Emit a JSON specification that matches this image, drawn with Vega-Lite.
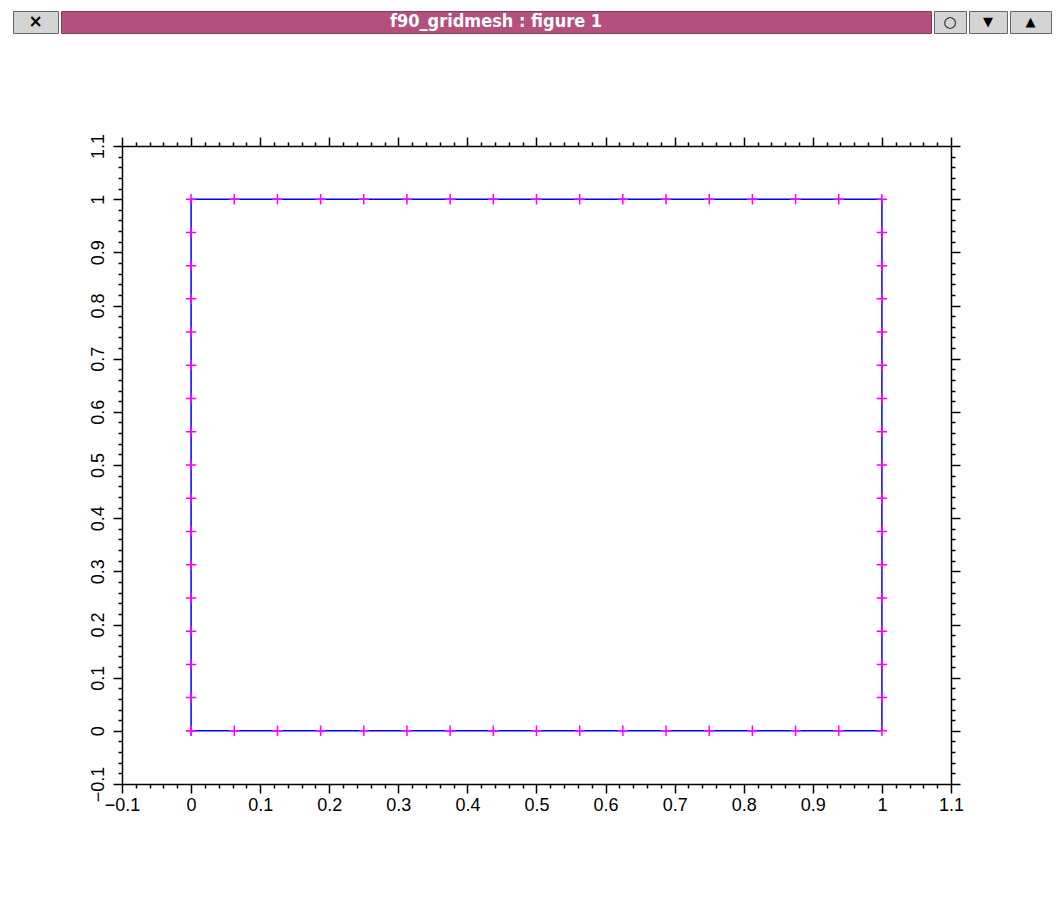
{
  "$schema": "https://vega.github.io/schema/vega-lite/v6.json",
  "background": "white",
  "padding": {"left": 12, "top": 10, "right": 9, "bottom": 10},
  "bounds": "flush",
  "spacing": 135,
  "config": {"view": {"stroke": null}},
  "vconcat": [
    {
      "bounds": "flush",
      "spacing": 3,
      "hconcat": [
        {"width": 45, "height": 22, "view": {"fill": "#d4d4d4", "stroke": "#666666"},
         "data": {"values": [{"t": "×"}]},
         "mark": {"type": "text", "font": "DejaVu Sans", "fontSize": 17, "fontWeight": "bold", "color": "black"},
         "encoding": {"text": {"field": "t"}}},
        {"width": 870, "height": 22, "view": {"fill": "#b4507c", "stroke": "#8a3a5e"},
         "data": {"values": [{"t": "f90_gridmesh : figure 1"}]},
         "mark": {"type": "text", "font": "DejaVu Sans Condensed, Liberation Sans", "fontSize": 18, "fontWeight": "bold", "color": "white"},
         "encoding": {"text": {"field": "t"}}},
        {"width": 32, "height": 22, "view": {"fill": "#d4d4d4", "stroke": "#666666"},
         "data": {"values": [{"t": "○"}]},
         "mark": {"type": "text", "font": "DejaVu Sans", "fontSize": 15, "color": "black"},
         "encoding": {"text": {"field": "t"}}},
        {"width": 38, "height": 22, "view": {"fill": "#d4d4d4", "stroke": "#666666"},
         "data": {"values": [{"t": "▼"}]},
         "mark": {"type": "text", "font": "DejaVu Sans", "fontSize": 13, "color": "black"},
         "encoding": {"text": {"field": "t"}}},
        {"width": 41, "height": 22, "view": {"fill": "#d4d4d4", "stroke": "#666666"},
         "data": {"values": [{"t": "▲"}]},
         "mark": {"type": "text", "font": "DejaVu Sans", "fontSize": 13, "color": "black"},
         "encoding": {"text": {"field": "t"}}}
      ]
    },
    {
      "bounds": "flush",
      "spacing": 0,
      "hconcat": [
        {"width": 109, "height": 638,
         "data": {"values": [{"t": ""}]},
         "mark": {"type": "text"},
         "encoding": {"text": {"field": "t"}}},
        {
          "width": 829,
          "height": 638,
          "data": {"values": [
            {"i": 0, "x": 0, "y": 0},
            {"i": 1, "x": 0.0625, "y": 0},
            {"i": 2, "x": 0.125, "y": 0},
            {"i": 3, "x": 0.1875, "y": 0},
            {"i": 4, "x": 0.25, "y": 0},
            {"i": 5, "x": 0.3125, "y": 0},
            {"i": 6, "x": 0.375, "y": 0},
            {"i": 7, "x": 0.4375, "y": 0},
            {"i": 8, "x": 0.5, "y": 0},
            {"i": 9, "x": 0.5625, "y": 0},
            {"i": 10, "x": 0.625, "y": 0},
            {"i": 11, "x": 0.6875, "y": 0},
            {"i": 12, "x": 0.75, "y": 0},
            {"i": 13, "x": 0.8125, "y": 0},
            {"i": 14, "x": 0.875, "y": 0},
            {"i": 15, "x": 0.9375, "y": 0},
            {"i": 16, "x": 1, "y": 0},
            {"i": 17, "x": 1, "y": 0.0625},
            {"i": 18, "x": 1, "y": 0.125},
            {"i": 19, "x": 1, "y": 0.1875},
            {"i": 20, "x": 1, "y": 0.25},
            {"i": 21, "x": 1, "y": 0.3125},
            {"i": 22, "x": 1, "y": 0.375},
            {"i": 23, "x": 1, "y": 0.4375},
            {"i": 24, "x": 1, "y": 0.5},
            {"i": 25, "x": 1, "y": 0.5625},
            {"i": 26, "x": 1, "y": 0.625},
            {"i": 27, "x": 1, "y": 0.6875},
            {"i": 28, "x": 1, "y": 0.75},
            {"i": 29, "x": 1, "y": 0.8125},
            {"i": 30, "x": 1, "y": 0.875},
            {"i": 31, "x": 1, "y": 0.9375},
            {"i": 32, "x": 1, "y": 1},
            {"i": 33, "x": 0.9375, "y": 1},
            {"i": 34, "x": 0.875, "y": 1},
            {"i": 35, "x": 0.8125, "y": 1},
            {"i": 36, "x": 0.75, "y": 1},
            {"i": 37, "x": 0.6875, "y": 1},
            {"i": 38, "x": 0.625, "y": 1},
            {"i": 39, "x": 0.5625, "y": 1},
            {"i": 40, "x": 0.5, "y": 1},
            {"i": 41, "x": 0.4375, "y": 1},
            {"i": 42, "x": 0.375, "y": 1},
            {"i": 43, "x": 0.3125, "y": 1},
            {"i": 44, "x": 0.25, "y": 1},
            {"i": 45, "x": 0.1875, "y": 1},
            {"i": 46, "x": 0.125, "y": 1},
            {"i": 47, "x": 0.0625, "y": 1},
            {"i": 48, "x": 0, "y": 1},
            {"i": 49, "x": 0, "y": 0.9375},
            {"i": 50, "x": 0, "y": 0.875},
            {"i": 51, "x": 0, "y": 0.8125},
            {"i": 52, "x": 0, "y": 0.75},
            {"i": 53, "x": 0, "y": 0.6875},
            {"i": 54, "x": 0, "y": 0.625},
            {"i": 55, "x": 0, "y": 0.5625},
            {"i": 56, "x": 0, "y": 0.5},
            {"i": 57, "x": 0, "y": 0.4375},
            {"i": 58, "x": 0, "y": 0.375},
            {"i": 59, "x": 0, "y": 0.3125},
            {"i": 60, "x": 0, "y": 0.25},
            {"i": 61, "x": 0, "y": 0.1875},
            {"i": 62, "x": 0, "y": 0.125},
            {"i": 63, "x": 0, "y": 0.0625},
            {"i": 64, "x": 0, "y": 0}
          ]},
          "resolve": {"axis": {"x": "independent", "y": "independent"}},
          "layer": [
            {
              "mark": {"type": "line", "color": "#0000ff", "strokeWidth": 1.5},
              "encoding": {
                "x": {"field": "x", "type": "quantitative",
                  "scale": {"domain": [-0.1, 1.1], "nice": false, "zero": false},
                  "axis": {"orient": "bottom", "title": null, "grid": false,
                    "values": [-0.1,-0.08,-0.06,-0.04,-0.02,0,0.02,0.04,0.06,0.08,0.1,0.12,0.14,0.16,0.18,0.2,0.22,0.24,0.26,0.28,0.3,0.32,0.34,0.36,0.38,0.4,0.42,0.44,0.46,0.48,0.5,0.52,0.54,0.56,0.58,0.6,0.62,0.64,0.66,0.68,0.7,0.72,0.74,0.76,0.78,0.8,0.82,0.84,0.86,0.88,0.9,0.92,0.94,0.96,0.98,1,1.02,1.04,1.06,1.08,1.1],
                    "tickSize": {"condition": {"test": "abs(datum.value*10 - round(datum.value*10)) < 0.001", "value": 9}, "value": 4},
                    "tickColor": "black", "tickWidth": 1.5, "domainColor": "black", "domainWidth": 1.5,
                    "labelExpr": "abs(datum.value*10 - round(datum.value*10)) < 0.001 ? format(datum.value, '.1~f') : ''",
                    "labelOverlap": false, "labelFlush": false, "labelFont": "Liberation Sans", "labelFontSize": 18,
                    "labelColor": "black", "labelPadding": 3}},
                "y": {"field": "y", "type": "quantitative",
                  "scale": {"domain": [-0.1, 1.1], "nice": false, "zero": false},
                  "axis": {"orient": "left", "title": null, "grid": false,
                    "values": [-0.1,-0.08,-0.06,-0.04,-0.02,0,0.02,0.04,0.06,0.08,0.1,0.12,0.14,0.16,0.18,0.2,0.22,0.24,0.26,0.28,0.3,0.32,0.34,0.36,0.38,0.4,0.42,0.44,0.46,0.48,0.5,0.52,0.54,0.56,0.58,0.6,0.62,0.64,0.66,0.68,0.7,0.72,0.74,0.76,0.78,0.8,0.82,0.84,0.86,0.88,0.9,0.92,0.94,0.96,0.98,1,1.02,1.04,1.06,1.08,1.1],
                    "tickSize": {"condition": {"test": "abs(datum.value*10 - round(datum.value*10)) < 0.001", "value": 9}, "value": 4},
                    "tickColor": "black", "tickWidth": 1.5, "domainColor": "black", "domainWidth": 1.5,
                    "labelExpr": "abs(datum.value*10 - round(datum.value*10)) < 0.001 ? format(datum.value, '.1~f') : ''",
                    "labelAngle": -90, "labelAlign": "center", "labelBaseline": "bottom",
                    "labelOverlap": false, "labelFlush": false, "labelFont": "Liberation Sans", "labelFontSize": 18,
                    "labelColor": "black", "labelPadding": 6}},
                "order": {"field": "i", "type": "quantitative"}
              }
            },
            {
              "mark": {"type": "point", "shape": "M-1,0H1M0,-1V1", "filled": false, "stroke": "#ff00ff", "strokeWidth": 1.5, "size": 110, "opacity": 1},
              "encoding": {
                "x": {"field": "x", "type": "quantitative",
                  "scale": {"domain": [-0.1, 1.1], "nice": false, "zero": false},
                  "axis": {"orient": "top", "title": null, "grid": false, "labels": false,
                    "values": [-0.1,-0.08,-0.06,-0.04,-0.02,0,0.02,0.04,0.06,0.08,0.1,0.12,0.14,0.16,0.18,0.2,0.22,0.24,0.26,0.28,0.3,0.32,0.34,0.36,0.38,0.4,0.42,0.44,0.46,0.48,0.5,0.52,0.54,0.56,0.58,0.6,0.62,0.64,0.66,0.68,0.7,0.72,0.74,0.76,0.78,0.8,0.82,0.84,0.86,0.88,0.9,0.92,0.94,0.96,0.98,1,1.02,1.04,1.06,1.08,1.1],
                    "tickSize": {"condition": {"test": "abs(datum.value*10 - round(datum.value*10)) < 0.001", "value": 9}, "value": 4},
                    "tickColor": "black", "tickWidth": 1.5, "domainColor": "black", "domainWidth": 1.5}},
                "y": {"field": "y", "type": "quantitative",
                  "scale": {"domain": [-0.1, 1.1], "nice": false, "zero": false},
                  "axis": {"orient": "right", "title": null, "grid": false, "labels": false,
                    "values": [-0.1,-0.08,-0.06,-0.04,-0.02,0,0.02,0.04,0.06,0.08,0.1,0.12,0.14,0.16,0.18,0.2,0.22,0.24,0.26,0.28,0.3,0.32,0.34,0.36,0.38,0.4,0.42,0.44,0.46,0.48,0.5,0.52,0.54,0.56,0.58,0.6,0.62,0.64,0.66,0.68,0.7,0.72,0.74,0.76,0.78,0.8,0.82,0.84,0.86,0.88,0.9,0.92,0.94,0.96,0.98,1,1.02,1.04,1.06,1.08,1.1],
                    "tickSize": {"condition": {"test": "abs(datum.value*10 - round(datum.value*10)) < 0.001", "value": 9}, "value": 4},
                    "tickColor": "black", "tickWidth": 1.5, "domainColor": "black", "domainWidth": 1.5}}
              }
            }
          ]
        }
      ]
    }
  ]
}
